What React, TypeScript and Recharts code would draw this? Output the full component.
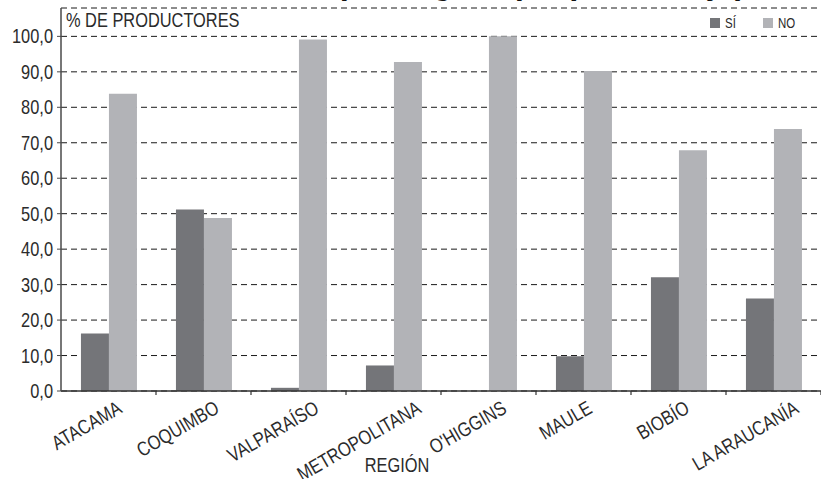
import React from 'react';
import { BarChart, Bar, XAxis, YAxis, CartesianGrid } from 'recharts';

const REGIONS = ['ATACAMA', 'COQUIMBO', 'VALPARAÍSO', 'METROPOLITANA', "O'HIGGINS", 'MAULE', 'BIOBÍO', 'LA ARAUCANÍA'];
const SI = [16.2, 51.2, 0.9, 7.2, 0, 9.8, 32.1, 26.1];
const NO = [83.8, 48.8, 99.1, 92.8, 100, 90.2, 67.9, 73.9];
const Y_TICKS = [0, 10, 20, 30, 40, 50, 60, 70, 80, 90, 100];
const SERIES = [
  { key: 'si', name: 'SÍ', color: '#747579' },
  { key: 'no', name: 'NO', color: '#b2b3b7' },
];

const W = 821;
const H = 479;
const Y_AXIS_W = 61;
const BAND = (W - Y_AXIS_W) / REGIONS.length;
const FONT = "'Liberation Sans', Arial, sans-serif";
const SQUEEZE = 0.82; // condensed look
const INK = '#2b2b2b';

const data = REGIONS.map((region, i) => ({ region, si: SI[i], no: NO[i] }));

const NT = ({ x, y, anchor = 'start', size = 20, angle = 0, weight, fill = INK, dy, children }: any) => (
  <text
    transform={`translate(${x} ${y}) rotate(${angle}) scale(${SQUEEZE} 1)`}
    textAnchor={anchor}
    fontSize={size}
    fontFamily={FONT}
    fontWeight={weight}
    fill={fill}
    dy={dy}
  >
    {children}
  </text>
);

const XTick = (props: any) => {
  const { x, y, payload } = props;
  const label: string = payload.value;
  // rough label length; labels sit about 3/4 of the way past their category centre
  const w = label.length * 11;
  const ex = x - 2 + 0.2165 * w;
  const ey = y + 21;
  return (
    <g>
      <line x1={x + BAND / 2} x2={x + BAND / 2} y1={y} y2={y + 4} stroke="#333" strokeWidth={1.2} />
      <NT x={ex} y={ey} anchor="end" angle={-30}>{label}</NT>
    </g>
  );
};

const fmt = (v: number) => v.toFixed(1).replace('.', ',');

const YTick = (props: any) => {
  const { x, y, payload } = props;
  return <NT x={x} y={y} anchor="end" dy="0.355em">{fmt(payload.value)}</NT>;
};

export default function App() {
  return (
    <div style={{ position: 'absolute', left: 0, top: 0, width: W, height: H, overflow: 'hidden', background: '#fff' }}>
      <BarChart
        width={W}
        height={H}
        data={data}
        margin={{ top: 8, right: 0, left: 0, bottom: 0 }}
        barCategoryGap="21%"
        barGap={0}
      >
        <CartesianGrid vertical={false} stroke="#1a1a1a" strokeDasharray="6 4" />
        <XAxis
          dataKey="region"
          height={88}
          interval={0}
          tickSize={0}
          tickMargin={0}
          tickLine={false}
          axisLine={{ stroke: '#333', strokeWidth: 1.5 }}
          tick={<XTick />}
        />
        <YAxis
          width={Y_AXIS_W}
          domain={[0, 108]}
          ticks={Y_TICKS}
          interval={0}
          tickSize={4}
          tickMargin={4}
          axisLine={{ stroke: '#4a4a4a', strokeWidth: 1.5 }}
          tickLine={{ stroke: '#4a4a4a' }}
          tick={<YTick />}
        />
        {SERIES.map(s => (
          <Bar key={s.key} dataKey={s.key} name={s.name} fill={s.color} isAnimationActive={false} />
        ))}
      </BarChart>
      <svg width={W} height={H} style={{ position: 'absolute', left: 0, top: 0, pointerEvents: 'none' }}>
        <NT x={746} y={-7} anchor="end" size={40} weight="bold" fill="#111">
          Productores con asistencia técnica, por región (en porcentaje)
        </NT>
        <NT x={66} y={27}>% DE PRODUCTORES</NT>
        <NT x={397} y={472} anchor="middle">REGIÓN</NT>
        {SERIES.map((s, i) => (
          <g key={s.key}>
            <rect x={710 + i * 53} y={18} width={10} height={10} fill={s.color} />
            <NT x={725 + i * 53} y={28} size={14}>{s.name}</NT>
          </g>
        ))}
      </svg>
    </div>
  );
}
